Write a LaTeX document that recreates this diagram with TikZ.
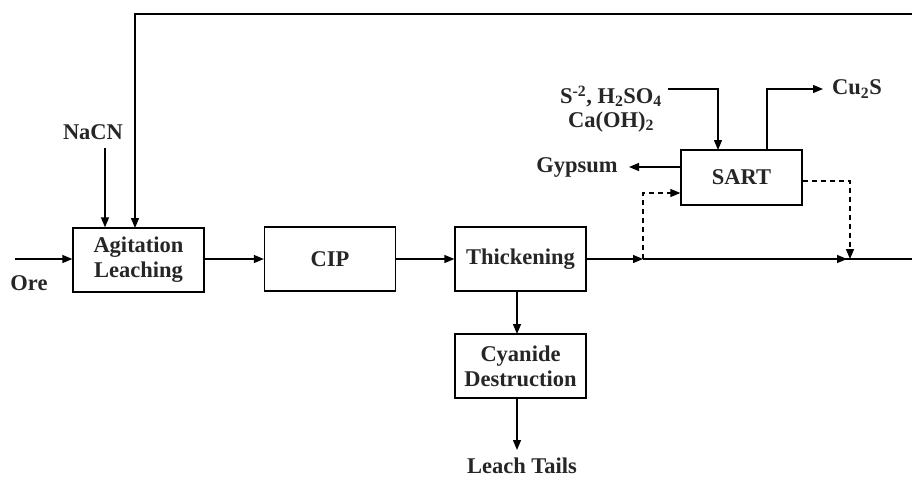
\documentclass[tikz,border=0pt]{standalone}
\usepackage{fontspec}
\setmainfont{Liberation Serif}
\usetikzlibrary{arrows.meta,calc}
\begin{document}
\begin{tikzpicture}[x=1pt,y=-1pt,
  every node/.style={font=\fontsize{22.5}{25}\selectfont\bfseries, text=black!85},
  box/.style={draw, line width=1.3pt, minimum width=131pt, minimum height=64pt, inner sep=0pt, align=center},
  lbl/.style={inner sep=0pt, align=center},
  flow/.style={line width=1.3pt, -{Triangle[length=10pt,width=8pt]}},
  plain/.style={line width=1.3pt},
  dashline/.style={line width=1.3pt, dash pattern=on 5pt off 4pt, -{Triangle[length=10pt,width=8pt]}}
]
\useasboundingbox (0,0) rectangle (912,479);

\node[box] (agit) at (138.5,260) {Agitation\\Leaching};
\node[box] (cip) at (330,259) {CIP};
\node[box] (thick) at (520.5,259) {Thickening};
\node[box] (cyan) at (520.5,366) {Cyanide\\Destruction};
\node[box, minimum width=121pt, minimum height=55pt] (sart) at (741.5,177.5) {SART};

\node[inner sep=0pt, anchor=base] (ore) at (29,290) {Ore};
\node[inner sep=0pt, anchor=base] (nacn) at (93,139) {NaCN};
\node[inner sep=0pt, anchor=base] (tails) at (522,473) {Leach Tails};
\node[lbl] (gyp) at (577,167) {Gypsum};
\node[lbl] (chem) at (611,109) {S\textsuperscript{-2}, H\textsubscript{2}SO\textsubscript{4}\\[-1pt]Ca(OH)\textsubscript{2}};
\node[lbl] (cus) at (857,89) {Cu\textsubscript{2}S};

\coordinate (orein) at (15,259);
\coordinate (nacnend) at (105,148);
\coordinate (rec) at (912,14);
\coordinate (split) at (643,259);
\coordinate (merge) at (850,259);
\coordinate (out) at (912,259);
\coordinate (tailend) at (517,450);
\coordinate (gypend) at (629,167);
\coordinate (chemstart) at (668,89);
\coordinate (cuend) at (823,89);

\draw[flow] (orein) -- (orein -| agit.west);
\draw[flow] (nacnend) -- (nacnend |- agit.north);
\draw[flow] (rec) -- (135,14) -- (135,228);
\draw[flow] (agit.east |- cip) -- (cip.west);
\draw[flow] (cip.east) -- (thick.west);
\draw[flow] (thick.east |- split) -- (split);
\draw[plain] (split) -- (out);
\draw[flow] (split) -- (847,259);
\draw[dashline] (split) -- (643,193) -- (sart.west |- 0,193);
\draw[dashline] (sart.east |- 0,181) -- (850,181) -- (merge);
\draw[flow] (sart.west |- gypend) -- (gypend);
\draw[flow] (chemstart) -- (718,89) -- (718,150);
\draw[flow] (767,150) -- (767,89) -- (cuend);
\draw[flow] (517,291) -- (517,334);
\draw[flow] (517,398) -- (tailend);
\end{tikzpicture}
\end{document}
